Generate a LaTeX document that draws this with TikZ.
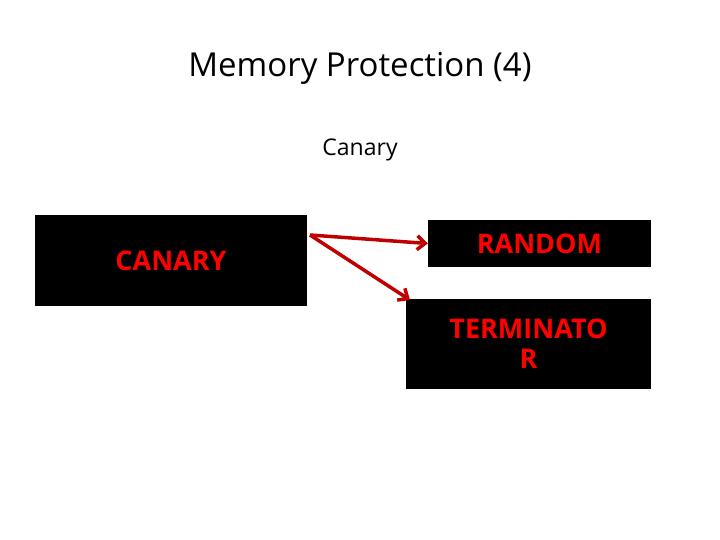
\documentclass[tikz,border=0pt]{standalone}
\usepackage{fontspec}
\setmainfont{Open Sans}
\usetikzlibrary{arrows.meta}
\definecolor{dred}{HTML}{C00000}
\begin{document}
\begin{tikzpicture}[x=1pt,y=-1pt,
  box/.style={fill=black,draw=none,inner sep=0pt,text=red,font=\fontsize{27}{30}\selectfont\bfseries,align=center},
  arr/.style={draw=dred,line width=3.5pt,-{Straight Barb[length=8pt,width=14pt]}}]
\useasboundingbox[fill=white] (0,0) rectangle (720,540);
\node (title) at (360,68) {\fontsize{33}{38}\selectfont Memory Protection (4)};
\node (sub) at (360,150) {\fontsize{23}{26}\selectfont Canary};
\node[box,minimum width=272pt,minimum height=91pt] (c) at (171,260.5) {CANARY};
\node[box,minimum width=223pt,minimum height=47pt] (r) at (539.5,243.5) {RANDOM};
\node[box,minimum width=245pt,minimum height=90pt,text width=245pt] (t) at (528.5,344) {TERMINATO\\R};
\coordinate (s) at (310,235);
\draw[arr] (s) -- (r.west);
\draw[arr] (s) -- (410,300);
\end{tikzpicture}
\end{document}
